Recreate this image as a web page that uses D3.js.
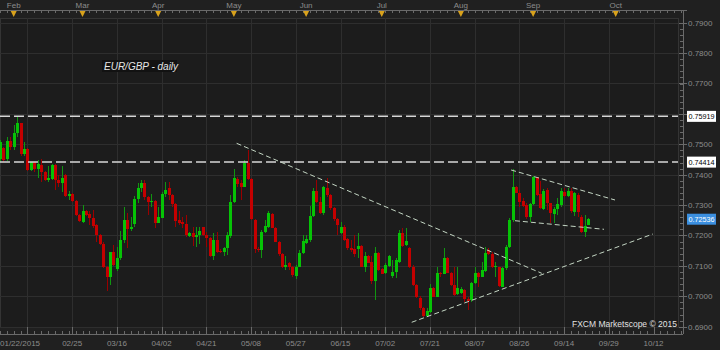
<!DOCTYPE html>
<html>
<head>
<meta charset="utf-8">
<script src="https://cdn.jsdelivr.net/npm/d3@7"></script>
<style>
  html, body { margin: 0; padding: 0; background: #202020; }
  svg { display: block; font-family: 'Liberation Sans', Arial, sans-serif; }
</style>
</head>
<body>
<svg id="chart" width="720" height="350"></svg>
<script>
// daily candles, bar index starts at first_bar (bar 0 = first trading day of Feb)
const first_bar = -4;
const candles = [
  // open, high, low, close
  [0.7451, 0.7514, 0.7443, 0.7509], [0.7489, 0.7492, 0.7443, 0.7448], [0.7451, 0.7525, 0.7446, 0.7512],
  [0.7512, 0.7523, 0.7481, 0.7490], [0.7490, 0.7564, 0.7481, 0.7538], [0.7538, 0.7592, 0.7525, 0.7569],
  [0.7569, 0.7571, 0.7462, 0.7468], [0.7468, 0.7509, 0.7460, 0.7485], [0.7485, 0.7487, 0.7413, 0.7416],
  [0.7416, 0.7443, 0.7413, 0.7441], [0.7441, 0.7443, 0.7410, 0.7419], [0.7419, 0.7448, 0.7388, 0.7434],
  [0.7432, 0.7452, 0.7377, 0.7410], [0.7410, 0.7413, 0.7380, 0.7383], [0.7383, 0.7427, 0.7377, 0.7388],
  [0.7385, 0.7435, 0.7383, 0.7432], [0.7432, 0.7434, 0.7350, 0.7383], [0.7383, 0.7399, 0.7358, 0.7374],
  [0.7374, 0.7427, 0.7344, 0.7388], [0.7399, 0.7402, 0.7328, 0.7331], [0.7331, 0.7348, 0.7317, 0.7337],
  [0.7337, 0.7339, 0.7311, 0.7314], [0.7314, 0.7317, 0.7264, 0.7268], [0.7268, 0.7270, 0.7246, 0.7249],
  [0.7246, 0.7301, 0.7240, 0.7279], [0.7279, 0.7284, 0.7264, 0.7268], [0.7270, 0.7279, 0.7235, 0.7256],
  [0.7256, 0.7284, 0.7224, 0.7232], [0.7235, 0.7238, 0.7180, 0.7202], [0.7202, 0.7204, 0.7169, 0.7172],
  [0.7173, 0.7177, 0.7092, 0.7096], [0.7098, 0.7100, 0.7016, 0.7062], [0.7063, 0.7147, 0.7037, 0.7145],
  [0.7145, 0.7169, 0.7100, 0.7103], [0.7090, 0.7163, 0.7084, 0.7125], [0.7125, 0.7215, 0.7120, 0.7185],
  [0.7185, 0.7293, 0.7174, 0.7251], [0.7251, 0.7273, 0.7158, 0.7220], [0.7221, 0.7262, 0.7216, 0.7229],
  [0.7238, 0.7330, 0.7229, 0.7320], [0.7320, 0.7372, 0.7306, 0.7355], [0.7355, 0.7383, 0.7344, 0.7372],
  [0.7372, 0.7383, 0.7317, 0.7328], [0.7328, 0.7330, 0.7268, 0.7311], [0.7310, 0.7337, 0.7295, 0.7314],
  [0.7314, 0.7317, 0.7224, 0.7242], [0.7242, 0.7295, 0.7240, 0.7262], [0.7259, 0.7344, 0.7257, 0.7337],
  [0.7337, 0.7377, 0.7328, 0.7350], [0.7355, 0.7377, 0.7317, 0.7333], [0.7333, 0.7335, 0.7295, 0.7304],
  [0.7304, 0.7306, 0.7229, 0.7249], [0.7251, 0.7279, 0.7235, 0.7240], [0.7246, 0.7262, 0.7224, 0.7238],
  [0.7238, 0.7268, 0.7196, 0.7202], [0.7200, 0.7212, 0.7196, 0.7207], [0.7209, 0.7229, 0.7167, 0.7196],
  [0.7196, 0.7229, 0.7163, 0.7202], [0.7202, 0.7229, 0.7172, 0.7215], [0.7227, 0.7229, 0.7200, 0.7202],
  [0.7202, 0.7213, 0.7163, 0.7191], [0.7191, 0.7194, 0.7128, 0.7131], [0.7131, 0.7207, 0.7120, 0.7185],
  [0.7185, 0.7213, 0.7141, 0.7147], [0.7150, 0.7155, 0.7141, 0.7146], [0.7145, 0.7163, 0.7133, 0.7160],
  [0.7158, 0.7213, 0.7136, 0.7202], [0.7200, 0.7333, 0.7191, 0.7309], [0.7309, 0.7418, 0.7306, 0.7388],
  [0.7385, 0.7394, 0.7361, 0.7369], [0.7372, 0.7383, 0.7317, 0.7361], [0.7361, 0.7449, 0.7359, 0.7438],
  [0.7440, 0.7481, 0.7383, 0.7386], [0.7386, 0.7388, 0.7251, 0.7254], [0.7251, 0.7253, 0.7141, 0.7156],
  [0.7156, 0.7163, 0.7147, 0.7152], [0.7152, 0.7218, 0.7125, 0.7211], [0.7211, 0.7251, 0.7207, 0.7231],
  [0.7229, 0.7279, 0.7224, 0.7273], [0.7271, 0.7275, 0.7224, 0.7226], [0.7226, 0.7229, 0.7177, 0.7180],
  [0.7180, 0.7183, 0.7131, 0.7139], [0.7139, 0.7141, 0.7092, 0.7095], [0.7095, 0.7131, 0.7087, 0.7104],
  [0.7109, 0.7112, 0.7087, 0.7095], [0.7098, 0.7100, 0.7065, 0.7070], [0.7068, 0.7103, 0.7056, 0.7098],
  [0.7098, 0.7152, 0.7095, 0.7141], [0.7141, 0.7202, 0.7139, 0.7182], [0.7175, 0.7202, 0.7172, 0.7188],
  [0.7186, 0.7297, 0.7180, 0.7264], [0.7264, 0.7355, 0.7262, 0.7347], [0.7347, 0.7383, 0.7306, 0.7311],
  [0.7311, 0.7328, 0.7271, 0.7273], [0.7273, 0.7363, 0.7268, 0.7358], [0.7355, 0.7388, 0.7328, 0.7333],
  [0.7333, 0.7335, 0.7284, 0.7289], [0.7291, 0.7295, 0.7249, 0.7253], [0.7254, 0.7257, 0.7202, 0.7235],
  [0.7209, 0.7246, 0.7205, 0.7229], [0.7229, 0.7235, 0.7183, 0.7185], [0.7187, 0.7191, 0.7152, 0.7158],
  [0.7160, 0.7185, 0.7147, 0.7152], [0.7155, 0.7202, 0.7130, 0.7139], [0.7155, 0.7207, 0.7125, 0.7166],
  [0.7166, 0.7169, 0.7095, 0.7098], [0.7098, 0.7147, 0.7081, 0.7131], [0.7131, 0.7136, 0.7109, 0.7111],
  [0.7112, 0.7131, 0.7040, 0.7050], [0.7050, 0.7163, 0.6988, 0.7141], [0.7141, 0.7147, 0.7084, 0.7087],
  [0.7089, 0.7092, 0.7074, 0.7075], [0.7076, 0.7109, 0.7074, 0.7103], [0.7100, 0.7135, 0.7097, 0.7132],
  [0.7067, 0.7120, 0.7059, 0.7081], [0.7081, 0.7125, 0.7059, 0.7119], [0.7114, 0.7218, 0.7109, 0.7207],
  [0.7207, 0.7224, 0.7163, 0.7166], [0.7169, 0.7224, 0.7166, 0.7182], [0.7158, 0.7161, 0.7092, 0.7097],
  [0.7097, 0.7103, 0.7034, 0.7037], [0.7037, 0.7041, 0.6994, 0.6999], [0.6996, 0.7001, 0.6955, 0.6960],
  [0.6960, 0.6964, 0.6931, 0.6935], [0.6935, 0.6960, 0.6931, 0.6952], [0.6949, 0.7042, 0.6946, 0.7026],
  [0.7026, 0.7030, 0.6997, 0.6999], [0.6999, 0.7097, 0.6997, 0.7078], [0.7078, 0.7080, 0.7065, 0.7073],
  [0.7075, 0.7158, 0.7073, 0.7125], [0.7125, 0.7128, 0.7076, 0.7078], [0.7078, 0.7081, 0.7034, 0.7037],
  [0.7037, 0.7097, 0.7001, 0.7004], [0.7006, 0.7097, 0.7004, 0.7028], [0.7010, 0.7032, 0.7007, 0.7024],
  [0.7021, 0.7023, 0.6982, 0.6990], [0.6990, 0.6999, 0.6955, 0.6986], [0.6988, 0.7048, 0.6982, 0.7043],
  [0.7043, 0.7097, 0.7041, 0.7078], [0.7078, 0.7081, 0.7032, 0.7064], [0.7064, 0.7114, 0.7062, 0.7086],
  [0.7084, 0.7163, 0.7081, 0.7141], [0.7152, 0.7158, 0.7136, 0.7139], [0.7139, 0.7147, 0.7092, 0.7095],
  [0.7095, 0.7114, 0.7065, 0.7100], [0.7095, 0.7098, 0.7032, 0.7034], [0.7032, 0.7095, 0.7030, 0.7092],
  [0.7092, 0.7169, 0.7087, 0.7163], [0.7163, 0.7257, 0.7158, 0.7251], [0.7251, 0.7418, 0.7246, 0.7361],
  [0.7361, 0.7363, 0.7339, 0.7341], [0.7341, 0.7350, 0.7295, 0.7311], [0.7314, 0.7322, 0.7293, 0.7297],
  [0.7300, 0.7306, 0.7253, 0.7260], [0.7260, 0.7308, 0.7246, 0.7304], [0.7304, 0.7396, 0.7300, 0.7391],
  [0.7391, 0.7394, 0.7330, 0.7333], [0.7335, 0.7380, 0.7286, 0.7289], [0.7286, 0.7352, 0.7284, 0.7348],
  [0.7350, 0.7355, 0.7284, 0.7306], [0.7306, 0.7308, 0.7240, 0.7273], [0.7271, 0.7295, 0.7240, 0.7286],
  [0.7286, 0.7322, 0.7267, 0.7304], [0.7300, 0.7355, 0.7295, 0.7348], [0.7344, 0.7357, 0.7328, 0.7330],
  [0.7330, 0.7355, 0.7328, 0.7348], [0.7348, 0.7355, 0.7275, 0.7282], [0.7278, 0.7344, 0.7264, 0.7339],
  [0.7333, 0.7339, 0.7262, 0.7278], [0.7262, 0.7267, 0.7209, 0.7213], [0.7213, 0.7267, 0.7196, 0.7231],
  [0.7235, 0.7257, 0.7233, 0.7254],
];

const month_labels = ['Feb', 'Mar', 'Apr', 'May', 'Jun', 'Jul', 'Aug', 'Sep', 'Oct'];
const month_bars = [0, 20, 42, 64, 85, 107, 130, 151, 175];
const date_labels = ['01/22/2015', '02/25', '03/16', '04/02', '04/21', '05/08', '05/27', '06/15',
  '07/02', '07/21', '08/07', '08/26', '09/14', '09/29', '10/12'];
const date_bars = [4, 17, 30, 43, 56, 69, 82, 95, 108, 121, 134, 147, 160, 173, 186];
const price_ticks = [0.79, 0.78, 0.77, 0.76, 0.75, 0.74, 0.73, 0.72, 0.71, 0.70, 0.69];
const levels = [0.75919, 0.74414];
const last_price = 0.72536;
// trend lines: [bar, price, bar, price]
const trend_lines = [
  [64.8, 0.75033, 153.5, 0.70757],
  [115.7, 0.69145, 185.8, 0.72049],
  [144.6, 0.74155, 174.8, 0.73168],
  [145.7, 0.72487, 171.6, 0.72204],
];

const plot = { left: 0, right: 678, top: 18, bottom: 327 };

const x = d3.scaleLinear().domain([0, 170]).range([13.7, 598.5]);
const y = d3.scaleLinear().domain([0.69, 0.79]).range([326.7, 22.7]);

const svg = d3.select('#chart');
const fmt = d3.format('.4f');
const fmt5 = d3.format('.5f');

svg.append('rect').attr('width', 720).attr('height', 350).attr('fill', '#202020');

svg
  .append('defs')
  .append('clipPath')
  .attr('id', 'plot-clip')
  .append('rect')
  .attr('x', plot.left)
  .attr('y', plot.top)
  .attr('width', plot.right - plot.left)
  .attr('height', plot.bottom - plot.top);

svg
  .append('rect')
  .attr('x', plot.left)
  .attr('y', plot.top)
  .attr('width', plot.right - plot.left)
  .attr('height', plot.bottom - plot.top)
  .attr('fill', '#1c1c1c')
  .attr('stroke', '#343434')
  .attr('shape-rendering', 'crispEdges');

// grid
const grid = svg.append('g').attr('shape-rendering', 'crispEdges').attr('stroke', '#2e2e2e');
grid
  .selectAll('line.h')
  .data(price_ticks)
  .join('line')
  .attr('class', 'h')
  .attr('x1', plot.left)
  .attr('x2', plot.right)
  .attr('y1', (d) => Math.round(y(d)) + 0.5)
  .attr('y2', (d) => Math.round(y(d)) + 0.5);
grid
  .selectAll('line.v')
  .data(date_bars)
  .join('line')
  .attr('class', 'v')
  .attr('x1', (d) => Math.round(x(d)) + 0.5)
  .attr('x2', (d) => Math.round(x(d)) + 0.5)
  .attr('y1', plot.top)
  .attr('y2', plot.bottom);

// candles
const bars = candles.map(([o, h, l, c], i) => ({ i: first_bar + i, o, h, l, c, up: c >= o }));
const body_color = (d) => (d.up ? '#06c306' : '#c40000');
const wick_color = (d) => (d.up ? '#109610' : '#9a0000');

const candle_g = svg
  .append('g')
  .attr('clip-path', 'url(#plot-clip)')
  .attr('shape-rendering', 'crispEdges');

candle_g
  .selectAll('line')
  .data(bars)
  .join('line')
  .attr('x1', (d) => Math.round(x(d.i)) + 0.5)
  .attr('x2', (d) => Math.round(x(d.i)) + 0.5)
  .attr('y1', (d) => y(d.h))
  .attr('y2', (d) => y(d.l))
  .attr('stroke', wick_color);

candle_g
  .selectAll('rect')
  .data(bars)
  .join('rect')
  .attr('x', (d) => Math.round(x(d.i)) - 1)
  .attr('width', 3)
  .attr('y', (d) => y(Math.max(d.o, d.c)))
  .attr('height', (d) => Math.max(1, Math.abs(y(d.o) - y(d.c))))
  .attr('fill', body_color);

// horizontal levels
svg
  .append('g')
  .selectAll('line')
  .data(levels)
  .join('line')
  .attr('x1', plot.left)
  .attr('x2', plot.right)
  .attr('y1', (d) => y(d))
  .attr('y2', (d) => y(d))
  .attr('stroke', '#d6d6d6')
  .attr('stroke-width', 1.5)
  .attr('stroke-dasharray', '10,4');

// trend lines
svg
  .append('g')
  .selectAll('line')
  .data(trend_lines)
  .join('line')
  .attr('x1', (d) => x(d[0]))
  .attr('y1', (d) => y(d[1]))
  .attr('x2', (d) => x(d[2]))
  .attr('y2', (d) => y(d[3]))
  .attr('stroke', '#c4d6c4')
  .attr('stroke-width', 1)
  .attr('stroke-dasharray', '5,3');

// title
const title = svg.append('g');
title
  .append('rect')
  .attr('x', 102)
  .attr('y', 60)
  .attr('width', 75)
  .attr('height', 12)
  .attr('fill', '#121212');
title
  .append('text')
  .attr('x', 104)
  .attr('y', 69.5)
  .attr('font-size', 10)
  .attr('font-style', 'italic')
  .attr('fill', '#e6e6e6')
  .text('EUR/GBP - daily');

svg
  .append('text')
  .attr('x', 677)
  .attr('y', 327)
  .attr('text-anchor', 'end')
  .attr('font-size', 8.5)
  .attr('fill', '#e2e2e2')
  .text('FXCM Marketscope \u00a9 2015');

// top axis
const axis_color = '#6a6a6a';
const label_color = '#8c8c8c';
const top_g = svg.append('g').attr('shape-rendering', 'crispEdges');
top_g
  .append('line')
  .attr('x1', 0)
  .attr('x2', 687)
  .attr('y1', 10.5)
  .attr('y2', 10.5)
  .attr('stroke', axis_color);
top_g
  .selectAll('line.tick')
  .data(d3.range(-4, 196, 2))
  .join('line')
  .attr('class', 'tick')
  .attr('x1', (d) => Math.round(x(d)) + 0.5)
  .attr('x2', (d) => Math.round(x(d)) + 0.5)
  .attr('y1', 10.5)
  .attr('y2', 13)
  .attr('stroke', axis_color);
svg
  .append('g')
  .selectAll('path')
  .data(month_bars)
  .join('path')
  .attr('d', (d) => `M${x(d) - 3},11L${x(d) + 3},11L${x(d)},17Z`)
  .attr('fill', '#d9a21c');
svg
  .append('g')
  .selectAll('text')
  .data(month_labels)
  .join('text')
  .attr('x', (d, i) => x(month_bars[i]))
  .attr('y', 8)
  .attr('text-anchor', 'middle')
  .attr('font-size', 8)
  .attr('fill', label_color)
  .text((d) => d);

// bottom axis
const bottom_g = svg.append('g').attr('shape-rendering', 'crispEdges');
bottom_g
  .append('line')
  .attr('x1', 0)
  .attr('x2', 683)
  .attr('y1', 334.5)
  .attr('y2', 334.5)
  .attr('stroke', axis_color);
bottom_g
  .selectAll('line.minor')
  .data(d3.range(-4, 196, 2))
  .join('line')
  .attr('class', 'minor')
  .attr('x1', (d) => Math.round(x(d)) + 0.5)
  .attr('x2', (d) => Math.round(x(d)) + 0.5)
  .attr('y1', 331)
  .attr('y2', 334.5)
  .attr('stroke', axis_color);
bottom_g
  .selectAll('line.major')
  .data(date_bars)
  .join('line')
  .attr('class', 'major')
  .attr('x1', (d) => Math.round(x(d)) + 0.5)
  .attr('x2', (d) => Math.round(x(d)) + 0.5)
  .attr('y1', plot.bottom)
  .attr('y2', 334.5)
  .attr('stroke', axis_color);
svg
  .append('g')
  .selectAll('text')
  .data(date_labels)
  .join('text')
  .attr('x', (d, i) => (i === 0 ? 0 : x(date_bars[i])))
  .attr('y', 346)
  .attr('text-anchor', (d, i) => (i === 0 ? 'start' : 'middle'))
  .attr('font-size', 8)
  .attr('fill', label_color)
  .text((d) => d);

// right axis
const right_g = svg.append('g').attr('shape-rendering', 'crispEdges');
right_g
  .append('line')
  .attr('x1', 683.5)
  .attr('x2', 683.5)
  .attr('y1', 11)
  .attr('y2', 334)
  .attr('stroke', axis_color);
right_g
  .selectAll('line.minor')
  .data(d3.range(0.69, 0.7901, 0.002))
  .join('line')
  .attr('class', 'minor')
  .attr('x1', 680)
  .attr('x2', 683.5)
  .attr('y1', (d) => Math.round(y(d)) + 0.5)
  .attr('y2', (d) => Math.round(y(d)) + 0.5)
  .attr('stroke', axis_color);
right_g
  .selectAll('line.major')
  .data(price_ticks)
  .join('line')
  .attr('class', 'major')
  .attr('x1', 679)
  .attr('x2', 687)
  .attr('y1', (d) => Math.round(y(d)) + 0.5)
  .attr('y2', (d) => Math.round(y(d)) + 0.5)
  .attr('stroke', axis_color);

// value flags on the right axis hide the tick labels they sit on
const flags = levels
  .map((v) => ({ v, bg: '#ffffff', fg: '#000000' }))
  .concat([{ v: last_price, bg: '#3b8fe0', fg: '#ffffff' }]);
const hidden_by_flag = (d) => flags.some((f) => Math.abs(y(f.v) - y(d)) < 9);

svg
  .append('g')
  .selectAll('text')
  .data(price_ticks.filter((d) => !hidden_by_flag(d)))
  .join('text')
  .attr('x', 688)
  .attr('y', (d) => y(d))
  .attr('dy', '0.35em')
  .attr('font-size', 8)
  .attr('fill', label_color)
  .text((d) => fmt(d));

const flag_g = svg
  .append('g')
  .selectAll('g')
  .data(flags)
  .join('g')
  .attr('transform', (d) => `translate(687,${y(d.v)})`);
flag_g
  .append('rect')
  .attr('x', 0)
  .attr('y', -5.5)
  .attr('width', 29)
  .attr('height', 11)
  .attr('fill', (d) => d.bg);
flag_g
  .append('text')
  .attr('x', 1.5)
  .attr('dy', '0.35em')
  .attr('font-size', 8)
  .attr('textLength', 26)
  .attr('lengthAdjust', 'spacingAndGlyphs')
  .attr('fill', (d) => d.fg)
  .text((d) => fmt5(d.v));
</script>
</body>
</html>
